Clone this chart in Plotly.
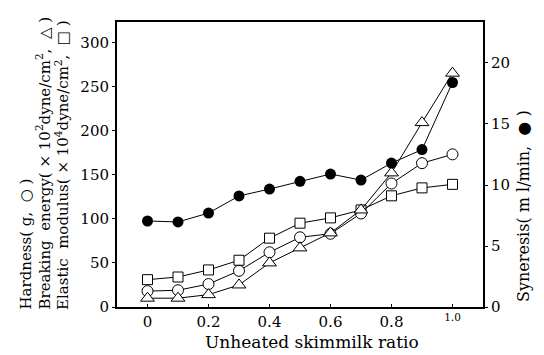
import plotly.graph_objects as go

ratio = [0, 0.1, 0.2, 0.3, 0.4, 0.5, 0.6, 0.7, 0.8, 0.9, 1.0]
hardness = [18, 19, 26, 41, 62, 79, 83, 106, 140, 163, 173]
breaking_energy = [10, 10, 14, 25, 50, 67, 84, 110, 152, 209, 265]
elastic_modulus = [31, 34, 42, 53, 78, 95, 101, 110, 126, 135, 139]
syneresis = [7.05, 6.97, 7.7, 9.1, 9.67, 10.3, 10.9, 10.4, 11.8, 12.9, 18.4]

x_tickvals = [0, 0.2, 0.4, 0.6, 0.8, 1.0]
x_ticktext = ["0", "0.2", "0.4", "0.6", "0.8", "<sup>1.0</sup>"]
left_ticks = [0, 50, 100, 150, 200, 250, 300]
right_ticks = [0, 5, 10, 15, 20]

FONT = "DejaVu Serif, Liberation Serif, serif"
L, R, T, B = 117, 61, 22, 48
W, H = 544, 355
PW, PH = W - L - R, H - T - B

def px(x):
    return (x - L) / PW

def py(y):
    return (H - B - y) / PH

fig = go.Figure()
line = dict(color="black", width=1)
fig.add_trace(go.Scatter(x=ratio, y=elastic_modulus, mode="lines+markers", line=line,
                         marker=dict(symbol="square", size=10, color="white", line=dict(color="black", width=1)),
                         name="Elastic modulus"))
fig.add_trace(go.Scatter(x=ratio, y=hardness, mode="lines+markers", line=line,
                         marker=dict(symbol="circle", size=11, color="white", line=dict(color="black", width=1)),
                         name="Hardness"))
fig.add_trace(go.Scatter(x=ratio, y=breaking_energy, mode="lines+markers", line=line,
                         marker=dict(symbol="triangle-up", size=12, color="white", line=dict(color="black", width=1)),
                         name="Breaking energy"))
fig.add_trace(go.Scatter(x=ratio, y=syneresis, mode="lines+markers", line=line, yaxis="y2",
                         marker=dict(symbol="circle", size=11, color="black"),
                         name="Syneresis"))

tickfont = dict(family=FONT, size=15, color="black")
fig.update_layout(
    width=W, height=H,
    margin=dict(l=L, r=R, t=T, b=B, pad=0, autoexpand=False),
    paper_bgcolor="white", plot_bgcolor="white",
    showlegend=False,
    xaxis=dict(range=[-0.1, 1.1], tickvals=x_tickvals, ticktext=x_ticktext, automargin=False,
               showline=True, linecolor="black", linewidth=2, mirror=True,
               ticks="inside", ticklen=3, tickcolor="black", showgrid=False, zeroline=False,
               tickfont=tickfont),
    yaxis=dict(range=[0, 323], tickvals=left_ticks, showline=True, linecolor="black", linewidth=2,
               ticks="outside", ticklen=3, tickcolor="black", showgrid=False, zeroline=False,
               tickfont=tickfont, automargin=False),
    yaxis2=dict(range=[0, 23.36], tickvals=right_ticks, overlaying="y", side="right",
                showline=True, linecolor="black", linewidth=2, automargin=False,
                ticks="outside", ticklen=3, tickcolor="black", showgrid=False, zeroline=False,
                tickfont=tickfont),
)

titlefont = dict(family=FONT, size=15, color="black")
left_titles = [
    ("Hardness( g,  ○ )", 25),
    ("Breaking  energy( × 10<sup>2</sup>dyne/cm<sup>2</sup>,  △ )", 43),
    ("Elastic  modulus( × 10<sup>4</sup>dyne/cm<sup>2</sup>,  □ )", 62),
]
for text, xp in left_titles:
    fig.add_annotation(text=text, xref="paper", yref="paper", x=px(xp), y=py(312),
                       xanchor="center", yanchor="bottom", textangle=-90, showarrow=False,
                       font=titlefont)
fig.add_annotation(text="Syneresis( m l/min,  ● )", xref="paper", yref="paper", x=px(523), y=py(304),
                   xanchor="center", yanchor="bottom", textangle=-90, showarrow=False,
                   font=dict(family=FONT, size=16, color="black"))
fig.add_annotation(text="Unheated skimmilk ratio", xref="paper", yref="paper", x=px(312), y=py(342),
                   xanchor="center", yanchor="middle", showarrow=False,
                   font=dict(family=FONT, size=17, color="black"))

fig.write_html("out.html", config={"displayModeBar": False},
               post_script="document.body.style.margin='0px';")
